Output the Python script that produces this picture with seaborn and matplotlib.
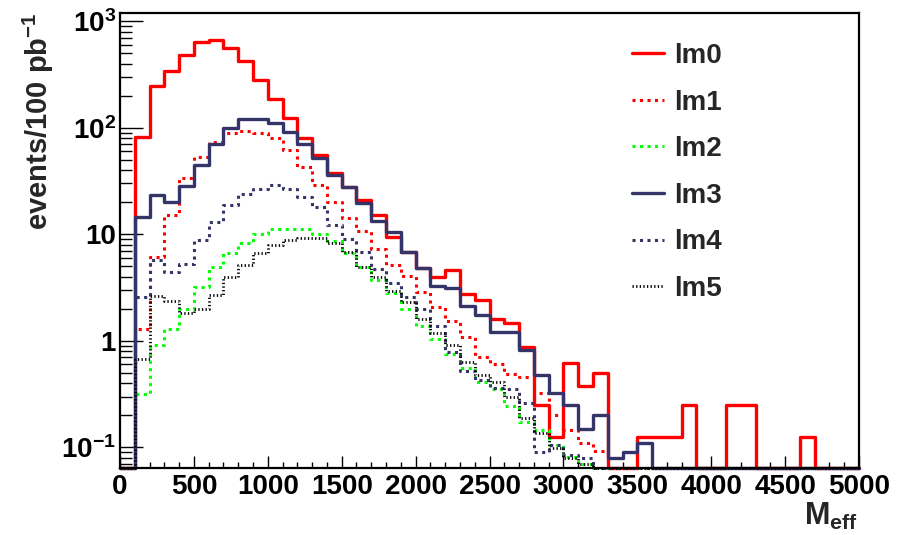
#%% Import Libraries
import numpy as np
import pandas as pd
import seaborn as sns
import matplotlib.pyplot as plt
from matplotlib.ticker import MultipleLocator, LogLocator, NullFormatter
from matplotlib.lines import Line2D

#%% Data (events per 100 MeV bin)
m_eff_edges = np.arange(0, 5001, 100)
series_names = ['lm0', 'lm1', 'lm2', 'lm3', 'lm4', 'lm5']
legend_labels = ['lm0', 'lm1', 'lm2', 'lm3', 'lm4', 'lm5']

lm0 = [0, 82, 246, 343, 482, 634, 666, 557, 426, 280,
       185, 124, 80.5, 56, 38, 27.6, 21, 15.1, 9.5, 6.8,
       4.8, 3.94, 4.6, 2.73, 2.41, 1.59, 1.48, 0.87, 0.25, 0.125,
       0.625, 0.375, 0.5, 0, 0, 0.125, 0.125, 0.125, 0.25, 0,
       0, 0.25, 0.25, 0, 0, 0, 0.125, 0, 0, 0]
lm1 = [0, 1.28, 6.06, 15.2, 33.5, 53.4, 73, 88.6, 93, 88.6,
       79.5, 62, 42.5, 29, 20.2, 14.1, 10.7, 7.2, 5.14, 4.05,
       2.88, 2.06, 1.54, 1.09, 0.71, 0.61, 0.49, 0.46, 0.325, 0.2,
       0.145, 0.11, 0.093] + [0] * 17
lm2 = [0, 0.316, 0.91, 1.28, 1.97, 3.17, 4.89, 6.7, 8.3, 10.1,
       11.1, 11.3, 11.3, 10.05, 8.67, 6.7, 4.9, 3.7, 2.8, 2.0,
       1.37, 1.05, 0.76, 0.55, 0.41, 0.35, 0.244, 0.174, 0.145, 0.105,
       0.082, 0.07] + [0] * 18
lm3 = [0, 14.4, 23.5, 20, 28.5, 44.7, 71, 99, 120, 122,
       112, 92, 71, 51.6, 36, 27.8, 19.7, 13.4, 10.4, 6.8,
       4.8, 3.26, 3.1, 2.12, 1.74, 1.2, 1.2, 0.82, 0.476, 0.325,
       0.25, 0.15, 0.2, 0.079, 0.091, 0.109] + [0] * 14
lm4 = [0, 2.56, 5.7, 4.45, 5.3, 8.8, 13.1, 18.8, 23.9, 26.7,
       29, 26.4, 22.2, 17.9, 12.2, 9.0, 6.85, 4.7, 3.46, 2.59,
       1.97, 1.37, 0.79, 0.52, 0.43, 0.36, 0.35, 0.26, 0.09, 0.105,
       0.085, 0.08] + [0] * 18
lm5 = [0, 0.68, 2.63, 2.37, 1.81, 1.97, 2.69, 3.94, 5.14, 6.7,
       7.9, 8.8, 9.2, 9.2, 8.2, 6.85, 4.94, 3.94, 2.95, 2.3,
       1.62, 1.19, 0.91, 0.635, 0.476, 0.41, 0.3, 0.19, 0.136, 0.098,
       0.079, 0.07] + [0] * 18

series_values = [lm0, lm1, lm2, lm3, lm4, lm5]

ytick_values = [0.1, 1, 10, 100, 1000]
ytick_labels = [r'$10^{-1}$', '1', '10', r'$10^{2}$', r'$10^{3}$']

#%% Style
sns.set_style('ticks')
plt.rcParams['font.family'] = ['Liberation Sans', 'DejaVu Sans']
plt.rcParams['font.weight'] = 'bold'
plt.rcParams['mathtext.fontset'] = 'custom'
plt.rcParams['mathtext.default'] = 'bf'
plt.rcParams['mathtext.bf'] = 'Liberation Sans:bold'
plt.rcParams['mathtext.rm'] = 'Liberation Sans:bold'
plt.rcParams['mathtext.it'] = 'Liberation Sans:bold:italic'

navy = '#343469'
styles = [
    dict(color='#ff0000', lw=2.4, ls='-'),
    dict(color='#ff0000', lw=2.2, ls=(0, (1, 1.45))),
    dict(color='#00ff00', lw=2.2, ls=(0, (1, 1.45))),
    dict(color=navy, lw=2.4, ls='-'),
    dict(color=navy, lw=2.2, ls=(0, (1, 1.45))),
    dict(color='black', lw=2.0, ls=(0, (0.47, 0.83))),
]
fs = 20

ymin, ymax = 0.064, 1195

#%% Plot
fig = plt.figure(figsize=(9, 5.35), dpi=100)
ax = fig.add_axes([120 / 900, 1 - 468 / 535, 739 / 900, 455 / 535])

for name, vals, st in zip(series_names, series_values, styles):
    y = np.clip(np.append(vals, vals[-1]), ymin, None)
    df = pd.DataFrame({'m_eff': m_eff_edges, 'events': y})
    sns.lineplot(data=df, x='m_eff', y='events', ax=ax, drawstyle='steps-post',
                 color=st['color'], linewidth=st['lw'], linestyle=st['ls'],
                 errorbar=None, clip_on=False)

ax.set_yscale('log')
ax.set_xlim(0, 5000)
ax.set_ylim(ymin, ymax)

ax.xaxis.set_major_locator(MultipleLocator(500))
ax.xaxis.set_minor_locator(MultipleLocator(100))
ax.yaxis.set_minor_locator(LogLocator(base=10, subs=np.arange(2, 10), numticks=20))
ax.set_yticks(ytick_values)
ax.set_yticklabels(ytick_labels)
ax.yaxis.set_minor_formatter(NullFormatter())

ax.tick_params(axis='both', which='both', direction='in', width=1, colors='black',
               labelsize=fs, top=False, right=False)
ax.tick_params(axis='x', which='major', length=8.6, pad=4)
ax.tick_params(axis='x', which='minor', length=4.3)
ax.tick_params(axis='y', which='major', length=16.5, pad=3)
ax.tick_params(axis='y', which='minor', length=8.6)
for lab in ax.get_xticklabels() + ax.get_yticklabels():
    lab.set_fontweight('bold')

for sp in ax.spines.values():
    sp.set_linewidth(1.6)
    sp.set_color('black')

ax.set_xlabel('')
ax.set_ylabel('')
fig.text(38 / 900, 1 - 12 / 535, r'events/100 pb$^{-1}$', rotation=90,
         ha='center', va='top', fontsize=fs + 1, fontweight='bold')
fig.text(858 / 900, 3 / 535, r'M$_{\rm eff}$', ha='right', va='bottom',
         fontsize=fs + 2, fontweight='bold')

handles = [Line2D([], [], color=st['color'], lw=st['lw'], ls=st['ls']) for st in styles]
leg = ax.legend(handles, legend_labels, loc='upper left',
                bbox_to_anchor=(632 / 900, 1 - 43 / 535), bbox_transform=fig.transFigure,
                frameon=False, fontsize=fs, handlelength=1.15, handletextpad=0.35,
                labelspacing=0.74, borderpad=0, borderaxespad=0)
for t in leg.get_texts():
    t.set_fontweight('bold')

fig.savefig('out.png', dpi=100)
